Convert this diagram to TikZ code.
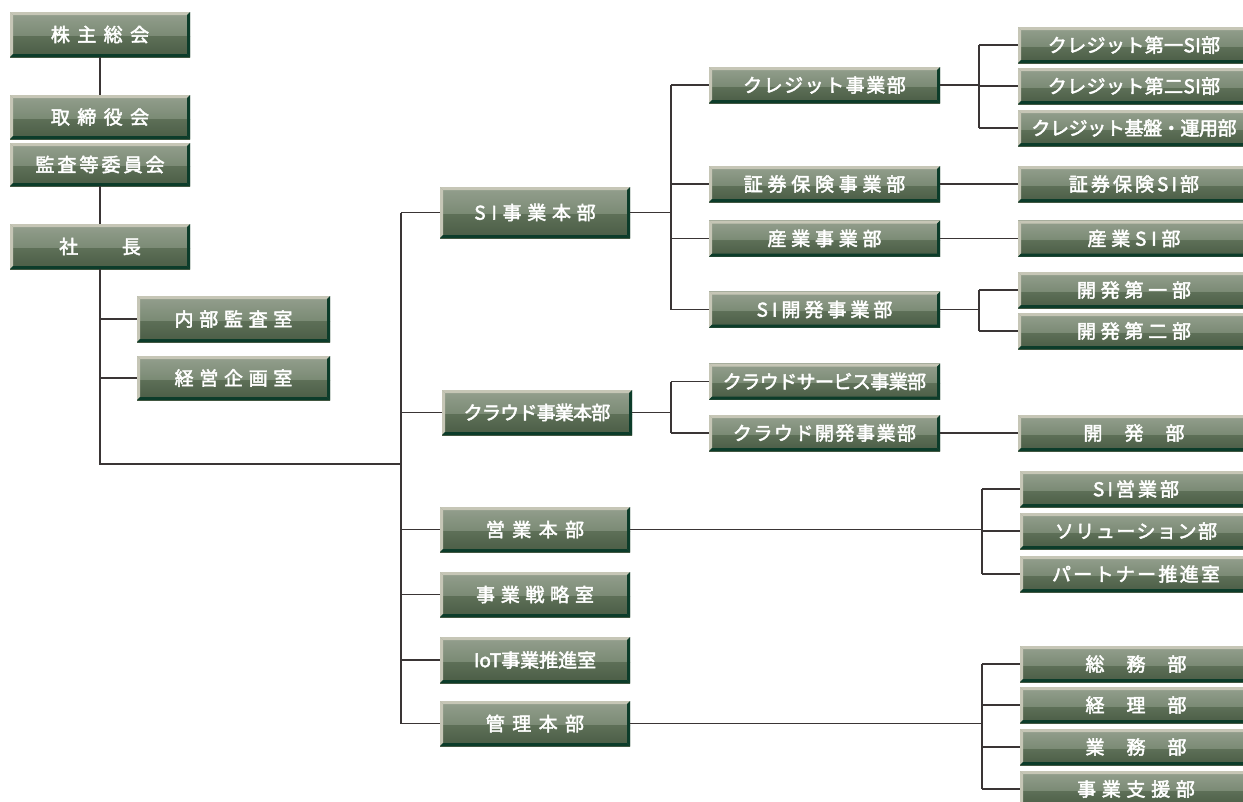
\documentclass[tikz,border=0pt]{standalone}
\usepackage{fontspec}
\newfontfamily\cjk[AutoFakeBold=2.4]{Noto Sans CJK JP}
\newcommand\ls[1]{\addfontfeature{LetterSpace=#1}}
\definecolor{bxA}{HTML}{949F8E}
\definecolor{bxB}{HTML}{7A8A74}
\definecolor{bxC}{HTML}{5D6F57}
\definecolor{bxD}{HTML}{4A5C45}
\definecolor{bxL}{HTML}{C6C6B6}
\definecolor{bxK}{HTML}{0C3C2A}
\definecolor{ln}{HTML}{3A3535}
\tikzset{
  bevelbox/.style={inner sep=0pt, text=white,
    font=\cjk\bfseries\fontsize{19}{22}\selectfont,
    path picture={
      \path (path picture bounding box.north west) coordinate (pNW)
            (path picture bounding box.north east) coordinate (pNE)
            (path picture bounding box.south west) coordinate (pSW)
            (path picture bounding box.south east) coordinate (pSE)
            (path picture bounding box.west) coordinate (pW)
            (path picture bounding box.east) coordinate (pE);
      \shade[top color=bxA, bottom color=bxB] (pNW) rectangle ([yshift=-2pt]pE);
      \shade[top color=bxC, bottom color=bxD] ([yshift=-2pt]pW) rectangle (pSE);
      \fill[bxL] (pNW) -- (pNE) -- ([shift={(-3pt,-3pt)}]pNE) -- ([shift={(3pt,-3pt)}]pNW) -- cycle;
      \fill[bxL] (pNW) -- ([shift={(3pt,-3pt)}]pNW) -- ([shift={(3pt,3pt)}]pSW) -- (pSW) -- cycle;
      \fill[bxK] (pNE) -- (pSE) -- ([shift={(-3pt,3pt)}]pSE) -- ([shift={(-3pt,-3pt)}]pNE) -- cycle;
      \fill[bxK] (pSW) -- (pSE) -- ([shift={(-3pt,3pt)}]pSE) -- ([shift={(3pt,3pt)}]pSW) -- cycle;
    }},
  bA/.style={bevelbox, minimum width=180pt, minimum height=#1},
  bB/.style={bevelbox, minimum width=193pt, minimum height=#1},
  bC/.style={bevelbox, minimum width=190pt, minimum height=#1},
  bD/.style={bevelbox, minimum width=231pt, minimum height=36pt},
  bE/.style={bevelbox, minimum width=232pt, minimum height=36pt},
  conn/.style={draw=ln, line width=1.1pt}
}
\begin{document}
\begin{tikzpicture}[x=1pt, y=-1pt]
\useasboundingbox (0,0) rectangle (1243,801);
% level A
\node[bA=45pt] (a1) at (100,34.5) {\ls{39}株主総会};
\node[bA=44pt] (a2) at (100,117) {\ls{39}取締役会};
\node[bA=43pt] (a3) at (100,164.5) {\ls{16}監査等委員会};
\node[bA=45pt] (a4) at (100,246.5) {社\hspace{2.3em}長};
\node[bB=46pt] (b1) at (233.5,319) {\ls{30}内部監査室};
\node[bB=44pt] (b2) at (233.5,378) {\ls{30}経営企画室};
% level C
\node[bC=51pt] (c1) at (535,212.5) {\ls{30}SI事業本部};
\node[bC=45pt] (c2) at (537,412.5) {\ls{-4}クラウド事業本部};
\node[bC=45pt] (c3) at (535,529.5) {\ls{39}営業本部};
\node[bC=45pt] (c4) at (535,594.5) {\ls{30}事業戦略室};
\node[bC=46pt] (c5) at (535,660) {\ls{0}IoT事業推進室};
\node[bC=45pt] (c6) at (535,723.5) {\ls{39}管理本部};
% level D
\node[bD] (d1) at (824.5,85) {\ls{8}クレジット事業部};
\node[bD] (d2) at (824.5,184) {\ls{25}証券保険事業部};
\node[bD] (d3) at (824.5,238.5) {\ls{25}産業事業部};
\node[bD] (d4) at (824.5,309.5) {\ls{21}SI開発事業部};
\node[bD] (d5) at (824.5,381.5) {\ls{-3}クラウドサービス事業部};
\node[bD] (d6) at (824.5,433) {\ls{8}クラウド開発事業部};
% level E
\node[bE] (e1) at (1134,45) {\ls{2}クレジット第一SI部};
\node[bE] (e2) at (1134,86) {\ls{2}クレジット第二SI部};
\node[bE] (e3) at (1134,128) {\ls{-2}クレジット基盤・運用部};
\node[bE] (e4) at (1134,184) {\ls{16}証券保険SI部};
\node[bE] (e5) at (1134,238.5) {\ls{25}産業SI部};
\node[bE] (e6) at (1134,290) {\ls{25}開発第一部};
\node[bE] (e7) at (1134,331) {\ls{25}開発第二部};
\node[bE] (e8) at (1134,433) {開\hspace{22pt}発\hspace{22pt}部};
\node[bE] (e9) at (1136,489) {\ls{16}SI営業部};
\node[bE] (e10) at (1136,531) {\ls{8}ソリューション部};
\node[bE] (e11) at (1136,574) {\ls{12}パートナー推進室};
\node[bE] (e12) at (1136,664) {総\hspace{22pt}務\hspace{22pt}部};
\node[bE] (e13) at (1136,705) {経\hspace{22pt}理\hspace{22pt}部};
\node[bE] (e14) at (1136,747) {業\hspace{22pt}務\hspace{22pt}部};
\node[bE] (e15) at (1136,789) {\ls{30}事業支援部};
% junction coordinates
\coordinate (j0) at (100,464);
\coordinate (j1) at (401,464);
\coordinate (k1) at (671,214);
\coordinate (k2) at (671,412.5);
\coordinate (m1) at (979,85);
\coordinate (m2) at (979,309.5);
\coordinate (n1) at (982,529.5);
\coordinate (n2) at (982,723.5);
% connectors
\draw[conn] (a1.south) -- (a2.north);
\draw[conn] (a3.south) -- (a4.north);
\draw[conn] (a4.south) -- (j0) -- (j1);
\draw[conn] (b1.west) -- (b1.west -| j0);
\draw[conn] (b2.west) -- (b2.west -| j0);
\draw[conn] (c1.west -| j1) -- (c6.west -| j1);
\foreach \c in {c1,c2,c3,c4,c5,c6} \draw[conn] (\c.west) -- (\c.west -| j1);
\draw[conn] (c1.east) -- (c1.east -| k1);
\draw[conn] (d1.west -| k1) -- (d4.west -| k1);
\foreach \d in {d1,d2,d3,d4} \draw[conn] (\d.west) -- (\d.west -| k1);
\draw[conn] (c2.east) -- (c2.east -| k2);
\draw[conn] (d5.west -| k2) -- (d6.west -| k2);
\foreach \d in {d5,d6} \draw[conn] (\d.west) -- (\d.west -| k2);
\draw[conn] (d1.east) -- (d1.east -| m1);
\draw[conn] (e1.west -| m1) -- (e3.west -| m1);
\foreach \e in {e1,e2,e3} \draw[conn] (\e.west) -- (\e.west -| m1);
\draw[conn] (d2.east) -- (e4.west);
\draw[conn] (d3.east) -- (e5.west);
\draw[conn] (d4.east) -- (d4.east -| m2);
\draw[conn] (e6.west -| m2) -- (e7.west -| m2);
\foreach \e in {e6,e7} \draw[conn] (\e.west) -- (\e.west -| m2);
\draw[conn] (d6.east) -- (e8.west);
\draw[conn] (c3.east) -- (c3.east -| n1);
\draw[conn] (e9.west -| n1) -- (e11.west -| n1);
\foreach \e in {e9,e10,e11} \draw[conn] (\e.west) -- (\e.west -| n1);
\draw[conn] (c6.east) -- (c6.east -| n2);
\draw[conn] (e12.west -| n2) -- (e15.west -| n2);
\foreach \e in {e12,e13,e14,e15} \draw[conn] (\e.west) -- (\e.west -| n2);
\end{tikzpicture}
\end{document}
